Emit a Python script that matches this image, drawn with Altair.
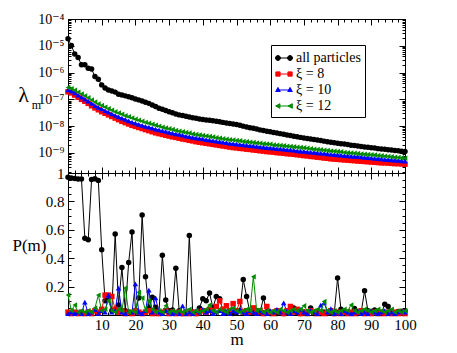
import altair as alt
import pandas as pd

# ---------------- data ----------------
m_values = list(range(0, 101))
series_names = ["all particles", "ξ = 8", "ξ = 10", "ξ = 12"]
series_colors = ["#000000", "#ff0000", "#0000ff", "#008b00"]
series_shapes = ["circle", "square", "triangle-up", "triangle-left"]

# log10 of lambda_m (top panel)
log10_lambda_all = [
    -4.74, -4.99, -5.31, -5.44, -5.71, -5.71, -5.84, -5.87, -6.15, -6.25,
    -6.46, -6.58, -6.65, -6.69, -6.73, -6.81, -6.84, -6.87, -6.90, -6.94,
    -6.99, -7.02, -7.06, -7.11, -7.15, -7.21, -7.27, -7.33, -7.37, -7.42,
    -7.46, -7.50, -7.55, -7.58, -7.60, -7.63, -7.66, -7.69, -7.71, -7.73,
    -7.75, -7.77, -7.78, -7.80, -7.82, -7.84, -7.86, -7.88, -7.90, -7.92,
    -7.94, -7.97, -8.00, -8.03, -8.06, -8.08, -8.11, -8.14, -8.16, -8.19,
    -8.21, -8.24, -8.26, -8.28, -8.30, -8.33, -8.35, -8.38, -8.40, -8.42,
    -8.44, -8.46, -8.48, -8.50, -8.52, -8.54, -8.56, -8.58, -8.60, -8.62,
    -8.64, -8.66, -8.67, -8.69, -8.71, -8.72, -8.74, -8.76, -8.78, -8.79,
    -8.81, -8.82, -8.84, -8.85, -8.86, -8.88, -8.89, -8.91, -8.92, -8.94,
    -8.95,
]
log10_lambda_xi8 = [
    -6.72, -6.76, -6.84, -6.92, -7.00, -7.07, -7.15, -7.24, -7.32, -7.39,
    -7.46, -7.52, -7.58, -7.64, -7.70, -7.76, -7.82, -7.87, -7.92, -7.97,
    -8.01, -8.05, -8.09, -8.13, -8.17, -8.21, -8.25, -8.28, -8.31, -8.34,
    -8.37, -8.40, -8.42, -8.45, -8.48, -8.50, -8.53, -8.55, -8.58, -8.60,
    -8.62, -8.64, -8.66, -8.68, -8.70, -8.72, -8.74, -8.76, -8.78, -8.80,
    -8.81, -8.83, -8.84, -8.86, -8.87, -8.89, -8.90, -8.92, -8.93, -8.95,
    -8.96, -8.97, -8.99, -9.00, -9.01, -9.03, -9.04, -9.05, -9.07, -9.08,
    -9.10, -9.11, -9.13, -9.14, -9.16, -9.17, -9.19, -9.20, -9.22, -9.23,
    -9.24, -9.25, -9.26, -9.27, -9.28, -9.29, -9.30, -9.31, -9.32, -9.33,
    -9.34, -9.35, -9.36, -9.37, -9.37, -9.38, -9.39, -9.40, -9.40, -9.41,
    -9.42,
]
log10_lambda_xi10 = [
    -6.65, -6.69, -6.76, -6.84, -6.92, -6.99, -7.07, -7.15, -7.23, -7.30,
    -7.36, -7.42, -7.48, -7.54, -7.60, -7.65, -7.70, -7.75, -7.80, -7.85,
    -7.89, -7.93, -7.97, -8.01, -8.04, -8.07, -8.11, -8.14, -8.17, -8.20,
    -8.23, -8.26, -8.29, -8.31, -8.34, -8.37, -8.39, -8.42, -8.44, -8.46,
    -8.48, -8.50, -8.52, -8.54, -8.56, -8.58, -8.60, -8.62, -8.64, -8.65,
    -8.67, -8.68, -8.70, -8.71, -8.73, -8.74, -8.76, -8.77, -8.78, -8.80,
    -8.81, -8.82, -8.84, -8.85, -8.86, -8.88, -8.89, -8.90, -8.92, -8.93,
    -8.94, -8.96, -8.97, -8.98, -9.00, -9.01, -9.02, -9.04, -9.05, -9.06,
    -9.07, -9.08, -9.10, -9.11, -9.12, -9.13, -9.14, -9.15, -9.17, -9.18,
    -9.19, -9.20, -9.21, -9.22, -9.24, -9.25, -9.26, -9.27, -9.28, -9.30,
    -9.31,
]
log10_lambda_xi12 = [
    -6.56, -6.60, -6.66, -6.73, -6.80, -6.87, -6.94, -7.02, -7.10, -7.17,
    -7.23, -7.29, -7.35, -7.41, -7.46, -7.51, -7.56, -7.61, -7.65, -7.70,
    -7.74, -7.78, -7.82, -7.86, -7.89, -7.93, -7.97, -8.00, -8.04, -8.07,
    -8.10, -8.13, -8.16, -8.19, -8.21, -8.24, -8.26, -8.29, -8.31, -8.33,
    -8.35, -8.37, -8.39, -8.41, -8.43, -8.45, -8.47, -8.49, -8.51, -8.52,
    -8.54, -8.55, -8.57, -8.58, -8.60, -8.61, -8.63, -8.64, -8.66, -8.67,
    -8.68, -8.70, -8.71, -8.72, -8.73, -8.75, -8.76, -8.77, -8.79, -8.80,
    -8.81, -8.83, -8.84, -8.86, -8.87, -8.88, -8.90, -8.91, -8.93, -8.94,
    -8.95, -8.96, -8.98, -8.99, -9.00, -9.01, -9.02, -9.04, -9.05, -9.06,
    -9.07, -9.08, -9.10, -9.11, -9.12, -9.13, -9.14, -9.16, -9.17, -9.18,
    -9.20,
]

# P(m) (bottom panel)
p_all = [
    0.970, 0.965, 0.962, 0.958, 0.957, 0.540, 0.530, 0.955, 0.960, 0.948,
    0.460, 0.100, 0.130, 0.030, 0.570, 0.070, 0.335, 0.030, 0.370, 0.585,
    0.030, 0.120, 0.705, 0.270, 0.050, 0.125, 0.055, 0.020, 0.420, 0.105,
    0.030, 0.035, 0.330, 0.030, 0.010, 0.010, 0.560, 0.020, 0.010, 0.050,
    0.115, 0.100, 0.155, 0.050, 0.130, 0.115, 0.030, 0.020, 0.020, 0.010,
    0.020, 0.030, 0.250, 0.130, 0.020, 0.020, 0.030, 0.020, 0.120, 0.020,
    0.010, 0.020, 0.010, 0.020, 0.010, 0.020, 0.020, 0.050, 0.020, 0.010,
    0.020, 0.020, 0.050, 0.010, 0.020, 0.010, 0.020, 0.010, 0.020, 0.010,
    0.260, 0.040, 0.010, 0.020, 0.010, 0.045, 0.010, 0.020, 0.170, 0.030,
    0.020, 0.035, 0.020, 0.010, 0.075, 0.060, 0.020, 0.010, 0.025, 0.020,
    0.030,
]
p_xi8 = [
    0.02, 0.01, 0.02, 0.01, 0.02, 0.01, 0.02, 0.01, 0.03, 0.02,
    0.04, 0.14, 0.14, 0.13, 0.04, 0.02, 0.03, 0.01, 0.02, 0.01,
    0.03, 0.02, 0.01, 0.02, 0.03, 0.01, 0.02, 0.01, 0.02, 0.03,
    0.01, 0.02, 0.01, 0.02, 0.01, 0.02, 0.01, 0.02, 0.01, 0.02,
    0.03, 0.02, 0.04, 0.03, 0.06, 0.10, 0.04, 0.065, 0.03, 0.08,
    0.03, 0.095, 0.02, 0.03, 0.02, 0.05, 0.02, 0.03, 0.01, 0.06,
    0.02, 0.01, 0.03, 0.02, 0.01, 0.03, 0.06, 0.02, 0.04, 0.01,
    0.02, 0.01, 0.03, 0.02, 0.01, 0.02, 0.01, 0.02, 0.03, 0.01,
    0.02, 0.01, 0.02, 0.01, 0.02, 0.01, 0.02, 0.03, 0.01, 0.02,
    0.01, 0.02, 0.01, 0.02, 0.01, 0.02, 0.01, 0.02, 0.01, 0.02,
    0.01,
]
p_xi10 = [
    0.01, 0.02, 0.01, 0.02, 0.01, 0.09, 0.01, 0.02, 0.04, 0.01,
    0.03, 0.02, 0.14, 0.02, 0.03, 0.19, 0.02, 0.01, 0.03, 0.02,
    0.22, 0.02, 0.01, 0.03, 0.175, 0.02, 0.12, 0.02, 0.01, 0.03,
    0.02, 0.01, 0.02, 0.01, 0.065, 0.01, 0.02, 0.01, 0.03, 0.02,
    0.04, 0.02, 0.03, 0.01, 0.02, 0.03, 0.01, 0.02, 0.01, 0.03,
    0.02, 0.04, 0.02, 0.01, 0.03, 0.02, 0.01, 0.03, 0.02, 0.01,
    0.03, 0.02, 0.04, 0.02, 0.085, 0.02, 0.01, 0.03, 0.02, 0.04,
    0.02, 0.01, 0.03, 0.02, 0.01, 0.07, 0.085, 0.02, 0.045, 0.01,
    0.02, 0.01, 0.03, 0.02, 0.01, 0.02, 0.03, 0.01, 0.02, 0.01,
    0.03, 0.02, 0.01, 0.02, 0.03, 0.01, 0.02, 0.01, 0.02, 0.03,
    0.02,
]
p_xi12 = [
    0.14, 0.03, 0.07, 0.02, 0.03, 0.02, 0.03, 0.02, 0.05, 0.14,
    0.03, 0.04, 0.10, 0.03, 0.02, 0.04, 0.03, 0.19, 0.02, 0.03,
    0.02, 0.16, 0.12, 0.03, 0.10, 0.04, 0.02, 0.03, 0.02, 0.065,
    0.02, 0.03, 0.02, 0.03, 0.02, 0.03, 0.04, 0.02, 0.03, 0.02,
    0.03, 0.04, 0.07, 0.03, 0.02, 0.04, 0.03, 0.02, 0.04, 0.05,
    0.03, 0.02, 0.03, 0.04, 0.03, 0.27, 0.03, 0.04, 0.02, 0.03,
    0.02, 0.03, 0.02, 0.04, 0.03, 0.02, 0.03, 0.04, 0.03, 0.04,
    0.065, 0.03, 0.02, 0.03, 0.04, 0.03, 0.095, 0.03, 0.02, 0.03,
    0.02, 0.03, 0.04, 0.03, 0.07, 0.03, 0.02, 0.03, 0.04, 0.03,
    0.02, 0.03, 0.04, 0.03, 0.02, 0.03, 0.04, 0.02, 0.03, 0.02,
    0.03,
]

x_major = list(range(0, 101, 10))
x_minor = list(range(0, 101, 2))
x_labels = list(range(10, 101, 10))
y_top_major = [1e-4, 1e-5, 1e-6, 1e-7, 1e-8, 1e-9]
y_top_minor = [d * 10.0 ** k for k in range(-10, -4) for d in range(2, 10)]
y_bot_major = [0, 0.2, 0.4, 0.6, 0.8, 1.0]
y_bot_minor = [i * 0.05 for i in range(0, 21)]
y_bot_labels = [0.2, 0.4, 0.6, 0.8, 1.0]

# ---------------- tables ----------------
top_cols = [log10_lambda_all, log10_lambda_xi8, log10_lambda_xi10, log10_lambda_xi12]
bot_cols = [p_all, p_xi8, p_xi10, p_xi12]
top_rows, bot_rows = [], []
for name, lv, pv in zip(series_names, top_cols, bot_cols):
    for m, a, b in zip(m_values, lv, pv):
        top_rows.append({"m": m, "lam": 10.0 ** a, "series": name})
        bot_rows.append({"m": m, "p": b, "series": name})
top_df = pd.DataFrame(top_rows)
bot_df = pd.DataFrame(bot_rows)

# ---------------- styling helpers ----------------
W, H1, H2 = 337, 154, 142
FONT = "Liberation Serif, DejaVu Serif, serif"
MAJ, MIN = 6, 3

x_scale = alt.Scale(domain=[0, 100], nice=False, zero=False)
y_top_scale = alt.Scale(type="log", domain=[10 ** -9.75, 1e-4], nice=False)
y_bot_scale = alt.Scale(domain=[0, 1], nice=False, zero=False)


def tick_axis(orient, offset, values, size):
    return alt.Axis(orient=orient, offset=offset, values=values, tickSize=size,
                    labels=False, title=None, grid=False, domain=True,
                    domainColor="black", domainWidth=1, tickColor="black",
                    tickWidth=1, ticks=True)


def frame_axes(height, y_major, y_minor):
    """inward ticks on the four sides: list of (x_axis, y_axis) per layer"""
    return [
        (tick_axis("bottom", -height, x_major, MAJ), tick_axis("right", -W, y_major, MAJ)),
        (tick_axis("bottom", -height, x_minor, MIN), tick_axis("right", -W, y_minor, MIN)),
        (tick_axis("top", -height, x_major, MAJ), tick_axis("left", -W, y_major, MAJ)),
        (tick_axis("top", -height, x_minor, MIN), tick_axis("left", -W, y_minor, MIN)),
    ]


sup_digits = "['','','','','⁴','⁵','⁶','⁷','⁸','⁹','']"
top_label_axis = alt.Axis(
    orient="left", values=y_top_major, ticks=False, tickSize=0, domain=False, grid=False,
    labelExpr="'10⁻' + " + sup_digits + "[round(-log(datum.value)/LN10)]",
    labelFont=FONT, labelFontSize=14, labelColor="black", labelPadding=4,
    labelOverlap=False, labelFlush=False,
    title="λ", titleFont=FONT, titleFontSize=22, titleFontWeight="normal",
    titleColor="black", titleAngle=0, titleX=-45, titleY=75,
    titleAlign="center", titleBaseline="middle")
top_sub_axis = alt.Axis(
    orient="left", labels=False, ticks=False, domain=False, grid=False,
    title="m", titleFont=FONT, titleFontSize=12, titleFontWeight="normal",
    titleColor="black", titleAngle=0, titleX=-32, titleY=85,
    titleAlign="center", titleBaseline="middle")
bot_label_axis = alt.Axis(
    orient="left", values=y_bot_labels, ticks=False, tickSize=0, domain=False, grid=False,
    labelExpr="datum.value == 1 ? '1' : format(datum.value, '.1f')",
    labelFont=FONT, labelFontSize=15, labelColor="black", labelPadding=4,
    labelOverlap=False, labelFlush=False,
    title="P(m)", titleFont=FONT, titleFontSize=17, titleFontWeight="normal",
    titleColor="black", titleAngle=0, titleX=-39, titleY=72,
    titleAlign="center", titleBaseline="middle")
x_label_axis = alt.Axis(
    orient="bottom", values=x_labels, ticks=False, tickSize=0, domain=False, grid=False,
    labelFont=FONT, labelFontSize=15, labelColor="black", labelPadding=2,
    labelFlush=False, labelOverlap=False,
    title="m", titleFont=FONT, titleFontSize=17, titleFontWeight="normal",
    titleColor="black", titlePadding=-1)


def panel(df, yfield, y_scale, axes_list):
    layers = []
    k = 0
    for name, color, shape in zip(series_names, series_colors, series_shapes):
        base = alt.Chart(df).transform_filter(alt.datum.series == name)
        for kind in ("line", "point"):
            xa, ya = axes_list[k] if k < len(axes_list) else (None, None)
            k += 1
            if kind == "line":
                mk = base.mark_line(color=color, strokeWidth=1, opacity=1)
            else:
                mk = base.mark_point(shape=shape, filled=True, color=color,
                                     size=30, opacity=1, strokeWidth=0)
            layers.append(mk.encode(
                x=alt.X("m:Q", scale=x_scale, axis=xa),
                y=alt.Y(f"{yfield}:Q", scale=y_scale, axis=ya),
            ))
    return layers


# ---------------- top panel ----------------
top_axes = frame_axes(H1, y_top_major, y_top_minor) + [(None, top_label_axis)]
top_layers = panel(top_df, "lam", y_top_scale, top_axes)

# legend: symbol - line - symbol samples as custom paths
legend_paths = [
    "M-0.71,0L0.71,0M-1,0A0.29,0.29 0 1,0 -0.42,0A0.29,0.29 0 1,0 -1,0Z"
    "M0.42,0A0.29,0.29 0 1,0 1,0A0.29,0.29 0 1,0 0.42,0Z",
    "M-0.71,0L0.71,0M-0.96,-0.25L-0.46,-0.25L-0.46,0.25L-0.96,0.25Z"
    "M0.46,-0.25L0.96,-0.25L0.96,0.25L0.46,0.25Z",
    "M-0.71,0L0.71,0M-0.71,-0.3L-0.98,0.18L-0.44,0.18Z"
    "M0.71,-0.3L0.44,0.18L0.98,0.18Z",
    "M-0.71,0L0.71,0M-0.98,0L-0.48,-0.27L-0.48,0.27Z"
    "M0.48,0L0.98,-0.27L0.98,0.27Z",
]
legend_kw = dict(orient="none", legendX=203, legendY=26, title=None,
                 labelFont=FONT, labelFontSize=14, labelColor="black",
                 symbolSize=289, symbolStrokeWidth=1, symbolOpacity=1,
                 strokeColor="black", fillColor="white", padding=4,
                 rowPadding=0, labelOffset=3)
legend_layer = alt.Chart(top_df).transform_filter("false").mark_point(
    opacity=1, size=289, strokeWidth=1).encode(
    x=alt.X("m:Q", scale=x_scale, axis=None),
    y=alt.Y("lam:Q", scale=y_top_scale, axis=top_sub_axis),
    fill=alt.Fill("series:N", scale=alt.Scale(domain=series_names, range=series_colors),
                  legend=alt.Legend(**legend_kw)),
    stroke=alt.Stroke("series:N", scale=alt.Scale(domain=series_names, range=series_colors),
                      legend=alt.Legend(**legend_kw)),
    shape=alt.Shape("series:N", scale=alt.Scale(domain=series_names, range=legend_paths),
                    legend=alt.Legend(**legend_kw)),
)
top = alt.layer(*top_layers, legend_layer).resolve_axis(
    x="independent", y="independent").properties(width=W, height=H1)

# ---------------- bottom panel ----------------
bot_axes = frame_axes(H2, y_bot_major, y_bot_minor) + [(x_label_axis, bot_label_axis)]
bot_layers = panel(bot_df, "p", y_bot_scale, bot_axes)
bottom = alt.layer(*bot_layers).resolve_axis(
    x="independent", y="independent").properties(width=W, height=H2)

chart = alt.vconcat(top, bottom, spacing=0, bounds="flush").properties(
    padding={"left": 3, "top": 3, "right": 5, "bottom": 0}
).configure_view(stroke=None).configure(background="white")

chart.save("out.html", embed_options={"renderer": "svg", "actions": False})
